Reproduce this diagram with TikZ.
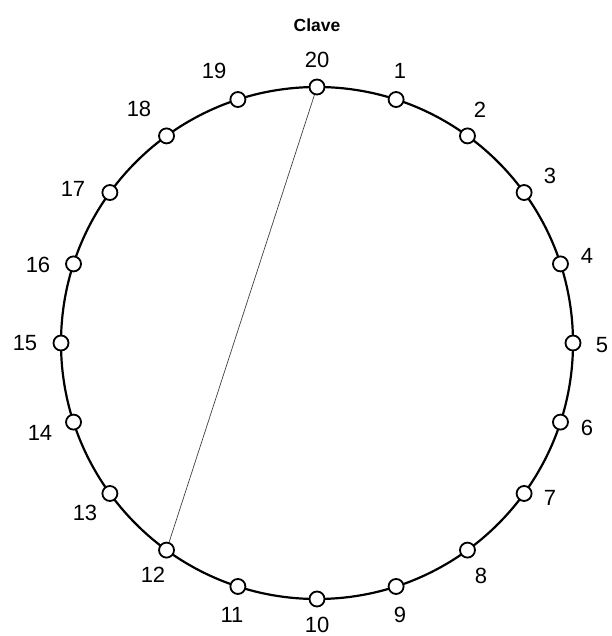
\documentclass[tikz,border=0pt]{standalone}
\usepackage{fontspec}
\setmainfont{Liberation Sans}
\usetikzlibrary{positioning, calc}

\begin{document}
\begin{tikzpicture}[
    x=1pt, y=-1pt,
    every node/.style={font=\fontsize{22}{26}\selectfont, inner sep=1pt},
    beat/.style={circle, draw, fill=white, line width=1.8pt, minimum size=15pt, inner sep=0pt},
  ]
  \useasboundingbox (0,0) rectangle (611,636);
  % title
  \node[font=\bfseries\fontsize{17.5}{20}\selectfont] (title) at (317,25) {Clave};
  % cycle
  \coordinate (c) at (317,343);
  \draw[line width=2.2pt] (c) circle (256);
  % beats
  \foreach \k in {1,...,20} {
    \node[beat] (b\k) at ($(c)+(-90+18*\k:256)$) {};
  }
  % labels
  \foreach \k/\lx/\ly in {20/317/60, 1/400/71, 2/480/110, 3/550/176, 4/587/256,
      5/602/345, 6/587/428, 7/550/498, 8/481/576, 9/400/615, 10/317/625,
      11/232/615, 12/153/575, 13/85/513, 14/40/433, 15/25/343, 16/38/265,
      17/73/189, 18/139/109, 19/214/71} {
    \node (l\k) at (\lx,\ly) {\k};
  }
  % chord
  \draw[line width=0.7pt, black!75] (b20) -- (b12);
\end{tikzpicture}
\end{document}
